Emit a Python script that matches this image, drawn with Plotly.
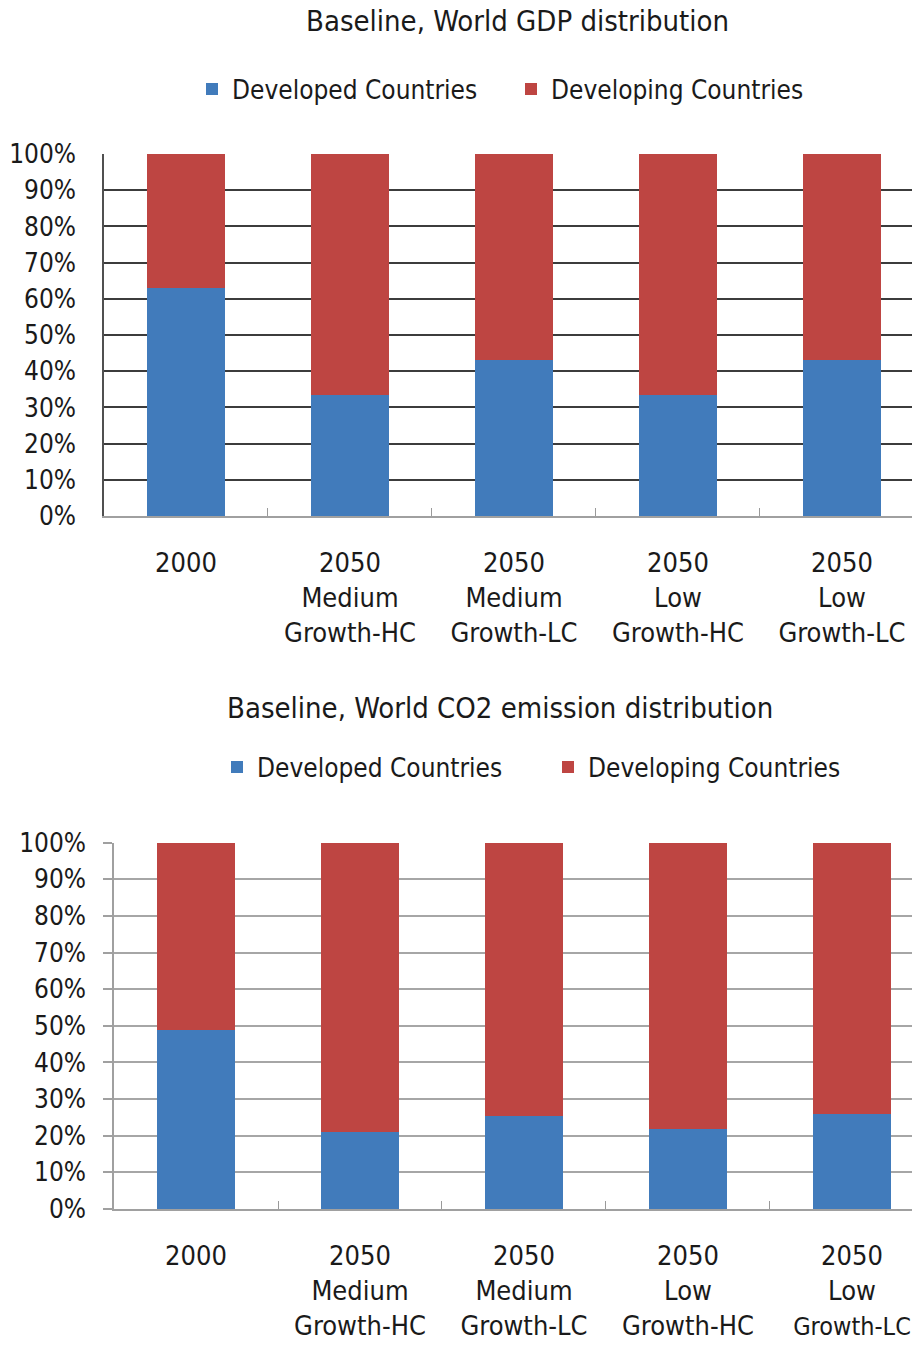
import plotly.graph_objects as go

categories = ["2000", "2050<br>Medium<br>Growth-HC", "2050<br>Medium<br>Growth-LC",
              "2050<br>Low<br>Growth-HC", "2050<br>Low<br>Growth-LC"]
gdp_developed = [63.0, 33.5, 43.0, 33.5, 43.0]
gdp_developing = [37.0, 66.5, 57.0, 66.5, 57.0]
co2_developed = [49.0, 21.1, 25.3, 21.8, 25.9]
co2_developing = [51.0, 78.9, 74.7, 78.2, 74.1]
y_tickvals = [0, 10, 20, 30, 40, 50, 60, 70, 80, 90, 100]
y_ticktext = ["0%", "10%", "20%", "30%", "40%", "50%", "60%", "70%", "80%", "90%", "100%"]

BLUE = "#417BBB"
RED = "#BE4542"
FONT = "DejaVu Sans Condensed, DejaVu Sans, sans-serif"
TXT = "#1a1a1a"

W = 912
H = 1345
def px_x(page_x):
    return page_x / W
def px_y(page_y):
    return 1 - page_y / H

fig = go.Figure()
fig.add_bar(x=categories, y=gdp_developed, name="Developed Countries", marker_color=BLUE,
            marker_line_width=0, xaxis="x", yaxis="y", legend="legend")
fig.add_bar(x=categories, y=gdp_developing, name="Developing Countries", marker_color=RED,
            marker_line_width=0, xaxis="x", yaxis="y", legend="legend")
fig.add_bar(x=categories, y=co2_developed, name="Developed Countries", marker_color=BLUE,
            marker_line_width=0, xaxis="x2", yaxis="y2", legend="legend2")
fig.add_bar(x=categories, y=co2_developing, name="Developing Countries", marker_color=RED,
            marker_line_width=0, xaxis="x2", yaxis="y2", legend="legend2")

# last label of the lower chart: last line slightly smaller so it stays inside the page
last_lines = categories[-1].split("<br>")
last_lines[-1] = "<span style='font-size:25px'>" + last_lines[-1] + "</span>"
bottom_ticktext = categories[:-1] + ["<br>".join(last_lines)]

xcommon = dict(type="category", tickson="boundaries", ticks="inside", ticklen=8,
               tickcolor="#9a9a9a", showline=True, linecolor="#a0a0a0", linewidth=1.5,
               showgrid=False, tickfont=dict(family=FONT, size=27, color=TXT),
               ticklabelstandoff=22, automargin=False, fixedrange=True)

fig.update_layout(
    width=W, height=H, margin=dict(l=0, r=0, t=0, b=0, autoexpand=False),
    paper_bgcolor="white", plot_bgcolor="white",
    barmode="stack", bargap=0.524, showlegend=True,
    font=dict(family=FONT, color=TXT),
    xaxis=dict(domain=[px_x(104), 1], anchor="y", range=[-0.5, 4.427], **xcommon),
    yaxis=dict(domain=[px_y(516), px_y(154)], anchor="x", range=[0, 100],
               tickvals=y_tickvals, ticktext=y_ticktext,
               showgrid=True, gridcolor="#3c3c3c", gridwidth=1.5,
               showline=True, linecolor="#505050", linewidth=1.5, ticks="",
               tickfont=dict(family=FONT, size=26, color=TXT), ticklabelstandoff=21,
               zeroline=False, automargin=False),
    xaxis2=dict(domain=[px_x(114), 1], anchor="y2", range=[-0.5, 4.366],
                tickmode="array", tickvals=categories, ticktext=bottom_ticktext, **xcommon),
    yaxis2=dict(domain=[px_y(1209), px_y(842.7)], anchor="x2", range=[0, 100],
                tickvals=y_tickvals, ticktext=y_ticktext,
                showgrid=True, gridcolor="#a6a6a6", gridwidth=1.5,
                showline=True, linecolor="#a0a0a0", linewidth=1.5, ticks="outside",
                ticklen=9, tickcolor="#a0a0a0", tickwidth=1.5,
                tickfont=dict(family=FONT, size=26, color=TXT), ticklabelstandoff=12,
                zeroline=False, automargin=False),
    legend=dict(orientation="h", x=px_x(192), xanchor="left", y=px_y(89), yanchor="middle",
                entrywidth=274, entrywidthmode="pixels", traceorder="normal",
                font=dict(family=FONT, size=26, color=TXT), bgcolor="rgba(0,0,0,0)"),
    legend2=dict(orientation="h", x=px_x(217), xanchor="left", y=px_y(767), yanchor="middle",
                 entrywidth=286, entrywidthmode="pixels", traceorder="normal",
                 font=dict(family=FONT, size=26, color=TXT), bgcolor="rgba(0,0,0,0)"),
    annotations=[
        dict(text="Baseline, World GDP distribution", xref="paper", yref="paper",
             x=px_x(517), y=px_y(21), xanchor="center", yanchor="middle", showarrow=False,
             font=dict(family=FONT, size=29, color=TXT)),
        dict(text="Baseline, World CO2 emission distribution", xref="paper", yref="paper",
             x=px_x(500), y=px_y(708), xanchor="center", yanchor="middle", showarrow=False,
             font=dict(family=FONT, size=29, color=TXT)),
    ],
)

fig.write_html(
    "out.html",
    config={"displayModeBar": False},
    post_script="document.body.style.margin='0';"
                "document.documentElement.style.overflow='hidden';",
)
